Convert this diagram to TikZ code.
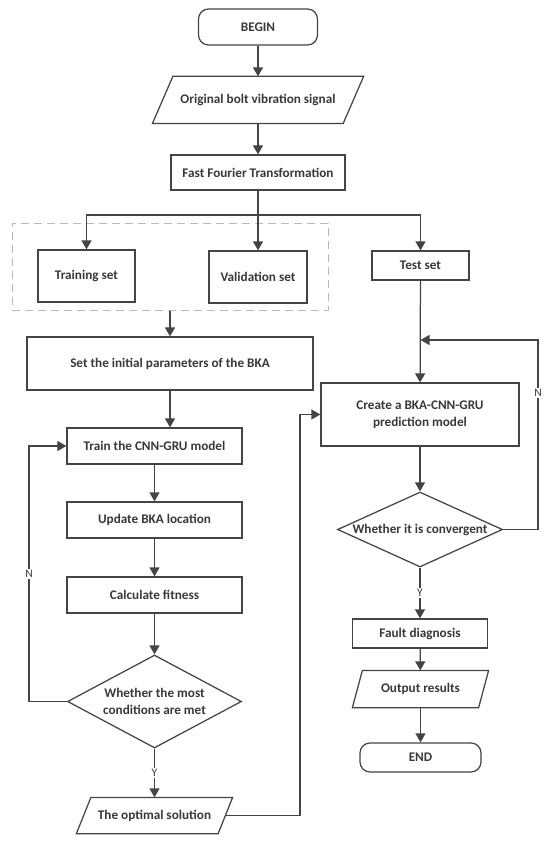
\documentclass[tikz,border=0pt]{standalone}
\usepackage{fontspec}
\setmainfont{Carlito}
\usetikzlibrary{shapes.geometric,arrows.meta}
\definecolor{lc}{HTML}{444444}
\definecolor{tc}{HTML}{383838}
\definecolor{dc}{HTML}{B8B8B8}
\tikzset{
  ln/.style={draw=lc, line width=1.25pt},
  arr/.style={ln, -{Triangle[width=10pt,length=9pt]}},
  box/.style={rectangle, ln, text=tc, font=\fontsize{13.2}{16.7}\selectfont\bfseries, inner sep=0pt, align=center},
  term/.style={box, rounded corners=10pt},
  paranode/.style={box, draw=none},
  dia/.style={box, diamond},
  grpbox/.style={draw=dc, line width=1pt, dash pattern=on 8pt off 5pt, inner sep=0pt},
  lab/.style={fill=white, text=tc, font=\fontsize{11.5}{13}\selectfont, inner sep=1.5pt}
}
\newcommand{\paraout}[2]{\draw[ln] ([xshift=#2]#1.north west) -- (#1.north east) -- ([xshift=-#2]#1.south east) -- (#1.south west) -- cycle;}
\begin{document}
\begin{tikzpicture}[x=1pt,y=-1pt]
\useasboundingbox (0,0) rectangle (550,850);
% nodes
\node[term, minimum width=119pt, minimum height=36pt] (begin) at (258,27) {BEGIN};
\node[paranode, minimum width=210pt, minimum height=46pt] (bolt) at (258,100) {Original bolt vibration signal};
\paraout{bolt}{20.5pt}
\node[box, minimum width=174pt, minimum height=35pt] (fft) at (258,172.5) {Fast Fourier Transformation};
\node[grpbox, minimum width=316pt, minimum height=87pt] (grp) at (170,266.5) {};
\node[box, minimum width=97pt, minimum height=52pt] (train) at (86.5,276) {Training set};
\node[box, minimum width=98pt, minimum height=52pt] (valid) at (258,277) {Validation set};
\node[box, minimum width=97pt, minimum height=29pt] (test) at (420.5,265.5) {Test set};
\node[box, minimum width=286pt, minimum height=53pt] (set) at (170,363.5) {Set the initial parameters of the BKA};
\node[box, minimum width=175pt, minimum height=36pt] (trainm) at (154.5,446) {Train the CNN-GRU model};
\node[box, minimum width=175pt, minimum height=36pt] (update) at (154.5,520) {Update BKA location};
\node[box, minimum width=175pt, minimum height=36pt] (calc) at (154.5,595) {Calculate fitness};
\node[dia, aspect=1.87, minimum width=174pt, minimum height=93pt] (dia1) at (154.5,701.5) {Whether the most\\conditions are met};
\node[paranode, minimum width=155pt, minimum height=35pt] (opt) at (154.5,815.5) {The optimal solution};
\paraout{opt}{14.5pt}
\node[box, minimum width=198pt, minimum height=63pt] (create) at (420,414.5) {Create a BKA-CNN-GRU\\prediction model};
\node[dia, aspect=2.2, minimum width=165pt, minimum height=75pt] (dia2) at (420,529.5) {Whether it is convergent};
\node[box, minimum width=135pt, minimum height=29pt] (fault) at (420,633.5) {Fault diagnosis};
\node[paranode, minimum width=135pt, minimum height=36pt] (out) at (420.5,689) {Output results};
\paraout{out}{10pt}
\node[term, minimum width=121pt, minimum height=29pt] (end) at (420.5,757.5) {END};
% coordinates
\coordinate (j) at (258,215);
\coordinate (lN) at (29,574);
\coordinate (rN) at (538,393);
\coordinate (rj) at (420.5,340);
\coordinate (rx) at (300,600);
\coordinate (optr) at ([xshift=-7.25pt]opt.east);
% connectors
\draw[arr] (begin) -- (bolt);
\draw[arr] (bolt) -- (fft);
\draw[ln] (fft.south) -- (j);
\draw[arr] (j) -| (train.north);
\draw[arr] (j) -- (valid.north);
\draw[arr] (j) -| (test.north);
\draw[arr] (grp.south) -- (set.north);
\draw[arr] (set.south) -- (set.south |- trainm.north);
\draw[arr] (trainm) -- (update);
\draw[arr] (update) -- (calc);
\draw[arr] (calc) -- (dia1);
\draw[arr] (dia1) -- node[lab] (ly) {Y} (opt);
\draw[arr] (dia1.west) -| (lN) |- (trainm.west);
\node[lab] (ln) at (lN) {N};
\draw[arr] (optr) -| (rx) |- (create.west);
\draw[arr] (test) -- (create);
\draw[arr] (create) -- (dia2);
\draw[arr] (dia2) -- node[lab] (ry) {Y} (fault);
\draw[arr] (dia2.east) -| (rN) |- (rj);
\node[lab] (rn) at (rN) {N};
\draw[arr] (fault) -- (out);
\draw[arr] (out) -- (end);
\end{tikzpicture}
\end{document}
